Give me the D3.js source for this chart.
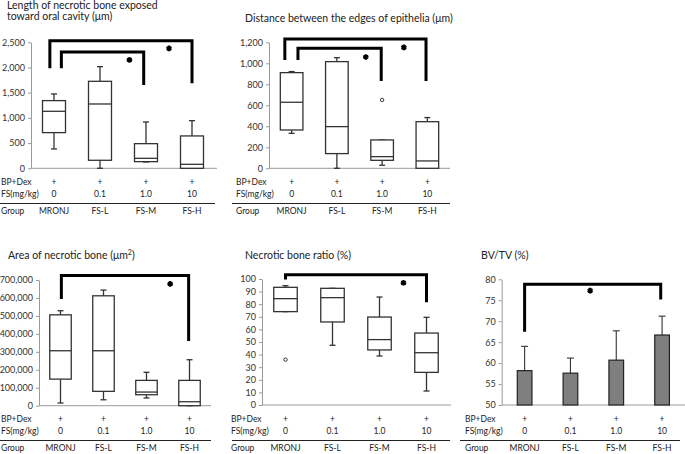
<!DOCTYPE html>
<html><head><meta charset="utf-8">
<script src="https://cdn.jsdelivr.net/npm/d3@7"></script>
<style>
body{margin:0;background:#fff;}
svg{display:block;font-family:Lato,"Open Sans",sans-serif;}
</style></head>
<body><svg id="c" width="685" height="454"></svg>
<script>
// ---------- data ----------
const categories = ["MRONJ", "FS-L", "FS-M", "FS-H"];
const bpDexRow = ["+", "+", "+", "+"];
const fsDoseRow = ["0", "0.1", "1.0", "10"];

// box stats: [low whisker, Q1, median, Q3, high whisker]
const lengthStats = [[384, 708, 1131, 1343, 1475], [0, 159, 1276, 1726, 2017], [126, 132, 198, 489, 919], [0, 0, 79, 642, 946]];
const lengthTicks = [0, 500, 1000, 1500, 2000, 2500];
const distanceStats = [[333, 365, 629, 911, 921], [0, 140, 397, 1016, 1054], [29, 76, 111, 270, 270], [0, 0, 70, 444, 483]];
const distanceOutliers = [[2, 651]];
const distanceTicks = [0, 200, 400, 600, 800, 1000, 1200];
const areaStats = [[15000, 148000, 306000, 506000, 529000], [33000, 80000, 306000, 612000, 644000], [43000, 61000, 76000, 141000, 186000], [0, 0, 22000, 141000, 256000]];
const areaTicks = [0, 100000, 200000, 300000, 400000, 500000, 600000, 700000];
const ratioStats = [[74.1, 74.1, 84.4, 93.4, 94.7], [47.4, 65.9, 85.2, 92.6, 92.6], [38.9, 43.7, 51.9, 69.8, 85.7], [11.1, 25.9, 41.5, 57.1, 69.6]];
const ratioOutliers = [[0, 36]];
const ratioTicks = [0, 10, 20, 30, 40, 50, 60, 70, 80, 90, 100];
const bvMeans = [58.2, 57.6, 60.7, 66.7];
const bvSD = [5.8, 3.6, 7.0, 4.5];
const bvTicks = [50, 55, 60, 65, 70, 75, 80];

// significance brackets: [left idx, right idx, top, left end, right end]; stars: [idx, value]
const lengthBrackets = [[-0.09, 3.0, 2533, 1984, 1687], [0.16, 1.95, 2308, 1984, 1653]];
const lengthStars = [[2.5, 2380], [1.64, 2150]];
const distanceBrackets = [[-0.15, 2.97, 1232, 1032, 832], [0.14, 1.98, 1143, 1032, 832]];
const distanceStars = [[2.48, 1152], [1.64, 1060]];
const areaBrackets = [[0.02, 2.98, 725000, 594000, 360000]];
const areaStars = [[2.55, 678000]];
const ratioBrackets = [[0, 3.0, 103.4, 99.7, 81.5]];
const ratioStars = [[2.51, 97]];
const bvBrackets = [[0, 2.97, 78.8, 67.5, 75.2]];
const bvStars = [[1.43, 77.3]];

// ---------- drawing ----------
const svg = d3.select("#c");
const fmt = d3.format(",");

function panel(cfg) {
  const g = svg.append("g");
  const x = d3.scaleBand().domain(categories).range([cfg.x0, cfg.x1]);
  const y = d3.scaleLinear().domain(cfg.domain).range([cfg.yBottom, cfg.yTop]);
  const step = x.step();
  const cx = i => x(categories[0]) + step / 2 + i * step;

  // title
  cfg.title.forEach((t, i) => {
    const tx = g.append("text").attr("x", cfg.titleX).attr("y", cfg.titleY + i * 11.5)
      .attr("font-size", 10.5).attr("fill", "#222");
    tx.html(t);
  });

  // y axis
  const ax = g.append("g").attr("transform", `translate(${cfg.x0},0)`)
    .call(d3.axisLeft(y).tickValues(cfg.ticks).tickFormat(fmt).tickSize(3).tickSizeOuter(0).tickPadding(3));
  ax.select(".domain").attr("stroke", "#9a9a9a");
  ax.selectAll(".tick line").attr("stroke", "#9a9a9a");
  ax.selectAll(".tick text").attr("font-size", 9).attr("fill", "#333").attr("font-family", "Lato,sans-serif");
  // baseline
  g.append("line").attr("x1", cfg.x0).attr("x2", cfg.baseEnd)
    .attr("y1", cfg.yBottom).attr("y2", cfg.yBottom).attr("stroke", "#9a9a9a");

  const bw = step * cfg.boxFrac;
  if (cfg.stats) {
    const bx = g.selectAll("g.box").data(cfg.stats).join("g");
    bx.each(function (s, i) {
      const b = d3.select(this), c = cx(i);
      const ln = (x1, y1, x2, y2) => b.append("line").attr("x1", x1).attr("y1", y1).attr("x2", x2).attr("y2", y2)
        .attr("stroke", "#333").attr("stroke-width", 1.3);
      ln(c, y(s[3]), c, y(s[4]));
      ln(c, y(s[1]), c, y(s[0]));
      ln(c - 3, y(s[4]), c + 3, y(s[4]));
      ln(c - 3, y(s[0]), c + 3, y(s[0]));
      b.append("rect").attr("x", c - bw / 2).attr("y", y(s[3])).attr("width", bw)
        .attr("height", y(s[1]) - y(s[3])).attr("fill", "#fff").attr("stroke", "#333").attr("stroke-width", 1.3);
      ln(c - bw / 2, y(s[2]), c + bw / 2, y(s[2]));
    });
    (cfg.outliers || []).forEach(o => {
      g.append("circle").attr("cx", cx(o[0])).attr("cy", y(o[1])).attr("r", 1.7)
        .attr("fill", "none").attr("stroke", "#333").attr("stroke-width", 1);
    });
  }
  if (cfg.means) {
    cfg.means.forEach((m, i) => {
      const c = cx(i);
      g.append("line").attr("x1", c).attr("x2", c).attr("y1", y(m)).attr("y2", y(m + cfg.sd[i]))
        .attr("stroke", "#333").attr("stroke-width", 1.1);
      g.append("line").attr("x1", c - 3.5).attr("x2", c + 3.5).attr("y1", y(m + cfg.sd[i])).attr("y2", y(m + cfg.sd[i]))
        .attr("stroke", "#333").attr("stroke-width", 1.1);
      g.append("rect").attr("x", c - bw / 2).attr("y", y(m)).attr("width", bw).attr("height", y(cfg.domain[0]) - y(m))
        .attr("fill", "#7f7f7f").attr("stroke", "#222").attr("stroke-width", 1.2);
    });
  }

  // brackets
  cfg.brackets.forEach(bk => {
    const path = d3.path();
    path.moveTo(cx(bk[0]), y(bk[3]));
    path.lineTo(cx(bk[0]), y(bk[2]));
    path.lineTo(cx(bk[1]), y(bk[2]));
    path.lineTo(cx(bk[1]), y(bk[4]));
    g.append("path").attr("d", path.toString()).attr("fill", "none")
      .attr("stroke", "#000").attr("stroke-width", 3);
  });
  const star = d3.symbol().type(d3.symbolAsterisk).size(22);
  cfg.stars.forEach(s => {
    g.append("path").attr("d", star()).attr("transform", `translate(${cx(s[0])},${y(s[1])})`)
      .attr("fill", "none").attr("stroke", "#000").attr("stroke-width", 2.2);
  });

  // table below
  const rowY = cfg.rowY;
  const lab = (txt, xx, yy, anchor) => g.append("text").attr("x", xx).attr("y", yy).attr("font-size", 8.5)
    .attr("fill", "#222").attr("text-anchor", anchor || "start").attr("dominant-baseline", "middle").text(txt);
  lab("BP+Dex", cfg.labelX, rowY);
  lab("FS(mg/kg)", cfg.labelX, rowY + 11.5);
  lab("Group", cfg.labelX, rowY + 29);
  categories.forEach((c, i) => {
    lab(bpDexRow[i], cx(i), rowY, "middle");
    lab(fsDoseRow[i], cx(i), rowY + 11.5, "middle");
    lab(c, cx(i), rowY + 29, "middle");
  });
  g.append("line").attr("x1", cfg.ruleX0).attr("x2", cfg.ruleX1).attr("y1", rowY + 20.5).attr("y2", rowY + 20.5)
    .attr("stroke", "#222").attr("stroke-width", 1);
}

panel({ title: ["Length of necrotic bone exposed", "toward oral cavity (\u03bcm)"], titleX: 7, titleY: 8.5,
  x0: 31, x1: 215, baseEnd: 217, yBottom: 168.3, yTop: 42.3, domain: [0, 2500], ticks: lengthTicks,
  stats: lengthStats, boxFrac: 0.5, brackets: lengthBrackets, stars: lengthStars,
  rowY: 183, labelX: 1, ruleX0: 0, ruleX1: 215 });
panel({ title: ["Distance between the edges of epithelia (\u03bcm)"], titleX: 245, titleY: 22,
  x0: 269, x1: 450, baseEnd: 450, yBottom: 168.3, yTop: 42.3, domain: [0, 1200], ticks: distanceTicks,
  stats: distanceStats, outliers: distanceOutliers, boxFrac: 0.5, brackets: distanceBrackets, stars: distanceStars,
  rowY: 183, labelX: 236, ruleX0: 232, ruleX1: 450 });
panel({ title: ["Area of necrotic bone (\u03bcm<tspan dy='-4' font-size='7'>2</tspan><tspan dy='4'>)</tspan>"], titleX: 8, titleY: 259,
  x0: 39, x1: 211, baseEnd: 211, yBottom: 405.7, yTop: 280, domain: [0, 700000], ticks: areaTicks,
  stats: areaStats, boxFrac: 0.5, brackets: areaBrackets, stars: areaStars,
  rowY: 420, labelX: 1, ruleX0: 0, ruleX1: 211 });
panel({ title: ["Necrotic bone ratio (%)"], titleX: 245, titleY: 259,
  x0: 262, x1: 450, baseEnd: 451, yBottom: 405, yTop: 279, domain: [0, 100], ticks: ratioTicks,
  stats: ratioStats, outliers: ratioOutliers, boxFrac: 0.5, brackets: ratioBrackets, stars: ratioStars,
  rowY: 420, labelX: 231, ruleX0: 232, ruleX1: 450 });
panel({ title: ["BV/TV (%)"], titleX: 481, titleY: 259,
  x0: 501.7, x1: 685, baseEnd: 685, yBottom: 405, yTop: 279.3, domain: [50, 80], ticks: bvTicks,
  means: bvMeans, sd: bvSD, boxFrac: 0.32, brackets: bvBrackets, stars: bvStars,
  rowY: 420, labelX: 465, ruleX0: 460, ruleX1: 680 });
</script></body></html>
